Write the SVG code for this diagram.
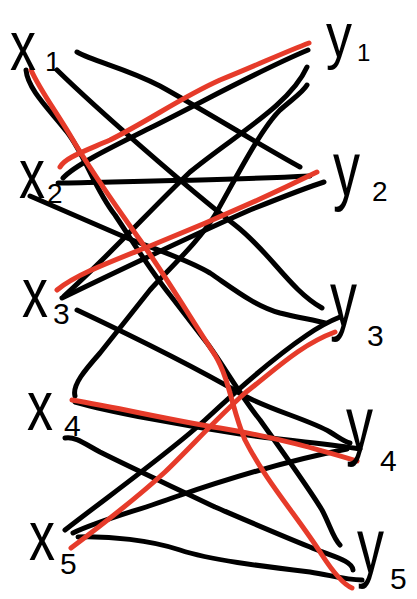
<svg xmlns="http://www.w3.org/2000/svg" width="417" height="599" viewBox="0 0 417 599">
<style>
.e{fill:none;stroke:#000;stroke-width:5;stroke-linecap:round;stroke-linejoin:round}
.m{fill:none;stroke:#e63b2a;stroke-width:5;stroke-linecap:round;stroke-linejoin:round}
.l{font-family:"Liberation Sans","DejaVu Sans",sans-serif;fill:#000}
.big{font-size:52px}
.yb{font-size:54px}
.sub{font-size:28px}
</style>
<rect width="417" height="599" fill="#fff"/>
<g id="connectors">
<g id="edges">
<path class="e" d="M77,52 C95,62 125,68 160,86 C200,108 260,145 300,167"/>
<path class="e" d="M57,70 C100,112 190,190 235,225 C270,252 290,290 322,308"/>
<path class="e" d="M26,70 C28,90 50,110 67,132 C85,155 95,190 115,215 C135,245 150,270 170,295 L207,343 C220,360 240,395 260,420 C285,455 310,490 322,510 C330,525 333,538 340,545"/>
<path class="e" d="M63,178 C75,165 110,148 150,128 C210,98 260,70 308,50"/>
<path class="e" d="M58,183 C150,181 230,180 310,176"/>
<path class="e" d="M30,196 L120,235 C150,248 185,258 210,273 C235,290 255,306 280,313 C300,318 315,320 325,323"/>
<path class="e" d="M64,296 C110,255 150,210 190,172 C235,135 290,105 307,67"/>
<path class="e" d="M62,298 C120,270 200,232 250,210 C280,198 305,188 324,182"/>
<path class="e" d="M75,396 C72,385 85,370 100,353 L150,290 C170,268 200,240 215,215 C235,180 260,130 280,110 C295,97 303,92 307,85"/>
<path class="e" d="M77,310 C130,335 200,370 243,395 C270,410 310,420 330,432 C340,438 345,442 350,443"/>
<path class="e" d="M75,402 C110,412 180,425 240,434 C290,441 330,444 360,449"/>
<path class="e" d="M65,438 C75,436 85,444 100,452 C140,472 180,490 215,507 C250,522 280,535 310,547 C330,556 352,560 353,570"/>
<path class="e" d="M65,530 C110,495 170,452 205,420 C235,392 270,360 307,335 C320,326 330,321 340,317"/>
<path class="e" d="M73,533 C100,520 140,510 175,497 C230,478 290,460 347,449"/>
<path class="e" d="M78,537 C110,536 150,540 180,550 C210,560 260,566 310,572 C330,575 345,580 362,580"/>
</g>
<g id="matching">
<path class="m" d="M31,70 C40,90 55,110 70,135 C90,170 115,205 140,240 C165,275 195,325 215,355 C230,380 232,410 245,440 C265,480 300,520 322,555 C335,575 345,585 352,588"/>
<path class="m" d="M60,167 C65,158 80,153 110,140 C150,120 180,98 220,80 C255,66 285,52 309,43"/>
<path class="m" d="M57,290 C75,275 110,262 150,246 C210,222 270,195 317,172"/>
<path class="m" d="M72,400 C120,408 170,420 220,428 C280,438 320,450 357,461"/>
<path class="m" d="M71,548 C95,530 140,495 165,472 C190,448 215,420 245,393 C275,370 300,345 335,332"/>
</g>
</g>
<g id="x1"><text class="l big" transform="translate(10,70) scale(1,1.35)">x</text><text class="l sub" x="45" y="71" font-size="26">1</text></g>
<g id="x2"><text class="l big" transform="translate(19,198) scale(1,1.35)">x</text><text class="l sub" x="47" y="203">2</text></g>
<g id="x3"><text class="l big" transform="translate(22,317) scale(1,1.35)">x</text><text class="l sub" x="53" y="324" style="font-size:30px">3</text></g>
<g id="x4"><text class="l big" transform="translate(27,430) scale(1,1.35)">x</text><text class="l sub" x="64" y="436" style="font-size:30px">4</text></g>
<g id="x5"><text class="l big" transform="translate(29,560) scale(1,1.35)">x</text><text class="l sub" x="60" y="574" style="font-size:30px">5</text></g>
<g id="y1"><text class="l" style="font-size:52px" transform="translate(326,57) scale(1,1.2)">y</text><text class="l sub" x="357" y="61" style="font-size:24px">1</text></g>
<g id="y2"><text class="l yb" transform="translate(333,196) scale(1,1.45)">y</text><text class="l sub" x="372" y="201">2</text></g>
<g id="y3"><text class="l yb" transform="translate(330,326) scale(1,1.45)">y</text><text class="l sub" x="367" y="346" style="font-size:30px">3</text></g>
<g id="y4"><text class="l yb" transform="translate(346,451) scale(1,1.45)">y</text><text class="l sub" x="380" y="471" style="font-size:30px">4</text></g>
<g id="y5"><text class="l yb" transform="translate(357,573) scale(1,1.45)">y</text><text class="l sub" x="390" y="589" style="font-size:30px">5</text></g>
</svg>
